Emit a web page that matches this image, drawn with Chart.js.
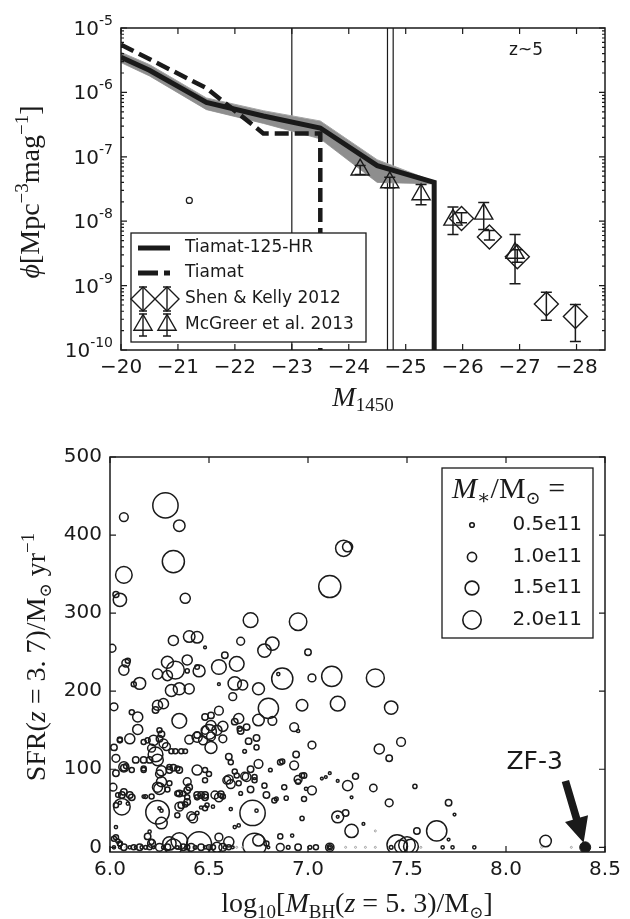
<!DOCTYPE html>
<html lang="en">
<head>
<meta charset="UTF-8">
<title>Quasar LF at z~5 and host SFR</title>
<script src="https://cdn.jsdelivr.net/npm/chart.js@4.4.1/dist/chart.umd.min.js"></script>
<style>
  body { margin: 0; background: #fff; }
  .panel { position: absolute; left: 0; }
  #lfPanel { top: 0; }
  #sfrPanel { top: 415px; }
</style>
</head>
<body>
<div class="panel" id="lfPanel"><canvas id="lfChart" width="630" height="415"></canvas></div>
<div class="panel" id="sfrPanel"><canvas id="sfrChart" width="630" height="504"></canvas></div>
<script>
// ---- top panel: z~5 luminosity function ----
const hrMag = [-20, -20.5, -21.5, -22.5, -23.5, -24.5, -25.5, -25.5];
const hrPhi = [3.5e-6, 2.2e-6, 7.0e-7, 4.3e-7, 2.8e-7, 7.3e-8, 4.0e-8, 1e-12];
const hrBandMag = [-20, -20.5, -21.5, -22.5, -23.5, -24.5, -25.45];
const hrBandHi = [4.2e-6, 2.7e-6, 8.2e-7, 5.2e-7, 3.6e-7, 9.0e-8, 4.3e-8];
const hrBandLo = [2.9e-6, 1.8e-6, 5.4e-7, 3.3e-7, 1.9e-7, 4.0e-8, 3.8e-8];
const tiMag = [-20, -21.5, -22.5, -23.5, -23.5];
const tiPhi = [5.5e-6, 1.17e-6, 2.3e-7, 2.3e-7, 1e-12];
const skMag = [-25.98, -26.47, -26.96, -27.47, -27.98];
const skPhi = [1.1e-8, 5.7e-9, 2.8e-9, 5.2e-10, 3.3e-10];
const skHi = [1.35e-8, 7.2e-9, 3.6e-9, 7.9e-10, 5.1e-10];
const skLo = [9.5e-9, 5.1e-9, 2.3e-9, 2.9e-10, 1.35e-10];
const mgMag = [-24.2, -24.72, -25.27, -25.83, -26.37, -26.92];
const mgPhi = [6.3e-8, 4.0e-8, 2.6e-8, 1.05e-8, 1.3e-8, 3.2e-9];
const mgHi = [7.3e-8, 4.8e-8, 3.7e-8, 1.66e-8, 1.95e-8, 6.2e-9];
const mgLo = [5.3e-8, 3.3e-8, 1.8e-8, 6.2e-9, 7.4e-9, 1.07e-9];
const strayMag = [-21.2];
const strayPhi = [2.1e-8];
const limitMag = [-23, -24.68, -24.78];
const magTicks = [-20, -21, -22, -23, -24, -25, -26, -27, -28];
const phiExp = [-10, -9, -8, -7, -6, -5];

// ---- bottom panel: SFR(z=3.7) vs BH mass(z=5.3), marker size = stellar mass ----
const logMbh = [
  6.28, 6.07, 6.35, 6.32, 6.07, 6.03, 6.05, 6.38, 6.71, 6.95,
  6.32, 6.40, 6.44, 6.48, 6.01, 6.66, 6.78, 6.82, 7.00, 6.58,
  6.29, 6.33, 6.39, 6.39, 6.45, 6.55, 6.64, 6.07, 6.08, 6.09,
  6.24, 6.29, 6.15, 6.12, 6.87, 7.02, 6.85, 6.63, 6.67, 6.75,
  7.18, 7.20, 7.11, 7.12, 7.34, 6.55, 6.44, 7.15, 7.42, 7.02,
  7.36, 7.47, 7.41, 6.98, 7.07, 7.09, 7.11, 7.15, 7.20, 7.24,
  7.02, 6.99, 7.33, 7.54, 7.22, 7.41, 7.71, 7.74, 7.15, 7.15,
  7.19, 7.22, 7.28, 7.34, 7.55, 7.65, 7.71, 8.20, 7.45, 7.50,
  7.52, 7.47, 7.04, 7.11, 7.11, 7.11, 7.19, 7.24, 7.29, 7.34,
  7.42, 7.57, 7.68, 7.73, 7.84, 8.18, 8.33, 6.31, 6.35, 6.40,
  6.62, 6.02, 6.14, 6.11, 6.24, 6.27, 6.23, 6.35, 6.55, 6.51,
  6.48, 6.65, 6.75, 6.80, 6.82, 6.97, 6.57, 6.69, 6.93, 6.95,
  6.14, 6.10, 6.05, 6.02, 6.22, 6.27, 6.26, 6.25, 6.31, 6.33,
  6.36, 6.38, 6.40, 6.44, 6.47, 6.51, 6.51, 6.50, 6.60, 6.61,
  6.70, 6.74, 6.74, 6.68, 6.87, 6.93, 6.13, 6.17, 6.20, 6.24,
  6.23, 6.03, 6.07, 6.08, 6.17, 6.26, 6.30, 6.32, 6.35, 6.44,
  6.48, 6.50, 6.60, 6.61, 6.64, 6.69, 6.73, 6.73, 6.81, 6.97,
  6.95, 6.78, 6.88, 6.84, 6.89, 6.71, 6.66, 6.55, 6.56, 6.46,
  6.48, 6.44, 6.39, 6.35, 6.39, 6.29, 6.25, 6.21, 6.18, 6.07,
  6.04, 6.11, 6.06, 6.05, 6.09, 6.24, 6.25, 6.26, 6.26, 6.35,
  6.38, 6.41, 6.42, 6.44, 6.46, 6.49, 6.52, 6.61, 6.72, 6.74,
  6.65, 6.63, 6.97, 6.92, 6.86, 6.75, 6.79, 6.73, 6.03, 6.03,
  6.04, 6.05, 6.19, 6.20, 6.21, 6.30, 6.32, 6.45, 6.55, 6.54,
  6.50, 6.52, 6.41, 6.37, 6.25, 6.86, 6.95, 6.90, 7.01, 6.66,
  6.94, 6.75, 6.86, 6.71, 6.68, 6.95, 6.79, 6.83, 6.98, 6.02,
  6.05, 6.08, 6.10, 6.13, 6.16, 6.18, 6.22, 6.27, 6.34, 6.43,
  6.48, 6.58, 6.62, 6.64, 6.67, 6.80,
  6.05, 6.17, 6.19, 6.21, 6.25, 6.285, 6.44, 6.48, 6.51, 6.54,
  6.57, 6.63, 6.655, 6.03, 6.07, 6.11, 6.17, 6.25, 6.26, 6.30,
  6.30, 6.34, 6.48, 6.59, 6.63, 6.015, 6.06, 6.10, 6.17, 6.24,
  6.34, 6.37, 6.39, 6.40, 6.44, 6.48, 6.53, 6.57, 6.65, 6.03,
  6.36, 6.39, 6.34, 6.48, 6.02, 6.05, 6.21, 6.35, 6.60, 6.07,
  6.12, 6.15, 6.20, 6.29, 6.39, 6.46, 6.57, 6.60
];
const sfr = [
  438, 423, 412, 366, 349, 324, 317, 319, 291, 289,
  265, 270, 269, 256, 255, 264, 252, 261, 250, 246,
  237, 227, 240, 226, 226, 231, 235, 227, 236, 239,
  222, 220, 210, 209, 216, 217, 222, 210, 208, 203,
  383, 385, 334, 219, 217, 209, 231, 184, 179, 131,
  126, 135, 114, 92, 88, 90, 95, 85, 79, 91,
  73, 75, 76, 78, 64, 57, 57, 42, 39, 39,
  44, 21, 30, 21, 21, 21, 10, 8, 3, 3,
  1, 1, 0, 0, 0, 0, 0, 0, 0, 0,
  0, 0, 0, 0, 0, 0, 0, 201, 203, 203,
  193, 180, 167, 173, 182, 184, 176, 162, 175, 169,
  167, 165, 163, 178, 162, 182, 155, 154, 154, 149,
  151, 139, 138, 128, 137, 133, 145, 150, 123, 123,
  123, 123, 138, 144, 137, 142, 128, 148, 116, 109,
  136, 140, 128, 123, 110, 105, 112, 112, 112, 112,
  119, 95, 102, 104, 99, 98, 99, 102, 99, 99,
  99, 94, 87, 81, 92, 90, 90, 86, 99, 92,
  84, 79, 77, 62, 63, 74, 69, 64, 68, 67,
  64, 64, 64, 69, 73, 74, 75, 65, 65, 71,
  67, 64, 52, 57, 56, 45, 50, 47, 31, 52,
  55, 40, 37, 44, 51, 54, 52, 49, 44, 47,
  28, 26, 37, 15, 14, 9, 5, 3, 26, 13,
  8, 4, 14, 20, 7, 5, 0, 4, 13, 0,
  0, 0, 0, 0, 0, 0, 0, 0, 0, 149,
  119, 107, 109, 100, 91, 87, 67, 60, 62, 0,
  0, 0, 0, 0, 0, 0, 0, 0, 0, 0,
  0, 0, 0, 0, 0, 0,
  137, 135, 137, 127, 139, 129, 141, 150, 156, 150,
  139, 161, 152, 114, 103, 99, 101, 94, 84, 82,
  103, 101, 86, 86, 97, 77, 67, 67, 65, 77,
  69, 69, 84, 77, 67, 67, 67, 65, 82, 54,
  54, 58, 41, 50, 11, 5, 5, 8, 7, 0,
  0, 0, 0, 0, 0, 0, 0, 0
];
const mStar = [
  2.75, 0.95, 1.25, 2.4, 1.8, 0.65, 1.45, 1.1, 1.6, 1.9,
  1.1, 1.25, 1.25, 0.3, 0.85, 0.85, 1.45, 1.45, 0.7, 0.7,
  1.3, 1.95, 1.1, 0.45, 1.3, 1.6, 1.6, 1.1, 0.85, 0.55,
  1.1, 1.1, 1.3, 0.55, 2.3, 0.85, 0.35, 1.45, 1.1, 1.3,
  1.75, 1.1, 2.4, 2.2, 1.95, 0.3, 0.5, 1.6, 1.45, 0.85,
  1.1, 0.95, 0.7, 0.6, 0.3, 0.3, 0.3, 0.3, 1.1, 0.65,
  0.95, 0.35, 0.8, 0.45, 0.3, 0.85, 0.7, 0.3, 1.3, 0.3,
  0.7, 1.45, 0.3, 0.2, 0.7, 2.2, 0.3, 1.25, 2.2, 1.8,
  1.6, 1.4, 0.55, 0.9, 0.55, 0.3, 0.15, 0.15, 0.15, 0.2,
  0.4, 0.2, 0.35, 0.35, 0.35, 0.15, 0.15, 1.3, 1.3, 1.1,
  0.85, 0.85, 1.1, 0.55, 1.1, 1.1, 0.7, 1.6, 0.95, 0.7,
  0.7, 1.1, 1.25, 2.2, 0.95, 1.25, 1.1, 0.7, 0.95, 0.35,
  1.1, 1.1, 0.55, 0.7, 1.1, 0.95, 0.7, 0.55, 0.55, 0.55,
  0.55, 0.5, 0.95, 0.7, 0.95, 0.95, 1.3, 1.6, 0.7, 0.55,
  0.7, 0.7, 0.55, 0.4, 0.55, 0.95, 0.7, 0.7, 0.7, 1.25,
  1.6, 0.7, 0.7, 0.5, 0.55, 1.1, 0.7, 0.7, 0.7, 1.1,
  0.55, 0.55, 0.95, 0.95, 0.55, 0.95, 0.55, 0.55, 0.4, 0.55,
  0.55, 0.55, 0.55, 0.4, 0.45, 0.7, 0.4, 0.95, 0.7, 0.7,
  0.7, 0.55, 0.55, 0.7, 0.7, 0.55, 1.25, 0.55, 0.4, 0.7,
  0.5, 0.7, 1.8, 0.35, 0.35, 2.55, 0.35, 0.35, 1.25, 0.95,
  0.55, 0.95, 0.95, 0.4, 0.35, 0.45, 0.35, 0.35, 2.75, 0.35,
  0.35, 0.35, 0.45, 0.35, 0.55, 1.25, 0.55, 2.55, 0.35, 0.55,
  0.45, 0.45, 0.7, 0.35, 0.55, 1.45, 1.8, 2.7, 0.85, 1.1,
  0.55, 0.55, 0.85, 0.7, 0.85, 0.85, 0.7, 0.4, 0.4, 0.7,
  0.7, 0.95, 0.6, 0.7, 0.85, 0.85, 0.7, 0.55, 0.55, 0.35,
  0.3, 0.15, 0.35, 0.3, 0.35, 0.4, 0.3, 0.4, 0.35, 0.4,
  0.35, 0.35, 0.3, 0.15, 0.15, 0.3,
  0.55, 0.55, 0.55, 0.85, 0.7, 0.85, 1.1, 0.85, 1.1, 1.1,
  0.85, 0.7, 0.55, 0.85, 1.1, 0.55, 0.55, 0.85, 1.1, 0.55,
  0.55, 0.55, 0.55, 0.85, 0.55, 0.85, 0.7, 0.7, 0.35, 1.1,
  0.55, 0.55, 0.85, 0.7, 0.7, 0.7, 0.85, 0.55, 0.55, 0.55,
  0.7, 0.7, 0.55, 0.55, 0.55, 0.55, 0.85, 1.8, 1.1, 0.7,
  0.55, 0.7, 0.55, 0.7, 0.55, 0.7, 0.85, 0.55
];
const legendMass = [0.5, 1.0, 1.5, 2.0];
const zf3Mbh = [8.4];
const zf3Sfr = [0];
const bhTicks = [6.0, 6.5, 7.0, 7.5, 8.0, 8.5];
const sfrTicks = [0, 100, 200, 300, 400, 500];

const INK = '#1a1a1a';
const SANS = "'DejaVu Sans', sans-serif";
const SERIF = "'Liberation Serif', 'DejaVu Serif', serif";
const PX_PER_MASS = 4.6; // marker radius in px per 1e11 Msun

Chart.defaults.font.family = SANS;
Chart.defaults.color = INK;

const toXY = (xs, ys) => xs.map((v, i) => ({ x: v, y: ys[i] }));

function fontOf(p) {
    return (p.it ? 'italic ' : '') + p.s + 'px ' + (p.f || SERIF);
}

// draw a run of text pieces (sub/superscripts via dy), baseline at (x, y)
function drawRich(ctx, parts, x, y, align, angle) {
    ctx.save();
    ctx.translate(x, y);
    if (angle) ctx.rotate(angle);
    ctx.textAlign = 'left';
    ctx.textBaseline = 'alphabetic';
    let w = 0;
    parts.forEach(p => { ctx.font = fontOf(p); w += ctx.measureText(p.t).width; });
    let cx = align === 'center' ? -w / 2 : (align === 'right' ? -w : 0);
    parts.forEach(p => {
        ctx.font = fontOf(p);
        ctx.fillText(p.t, cx, p.dy || 0);
        cx += ctx.measureText(p.t).width;
    });
    ctx.restore();
}

function seg(ctx, x1, y1, x2, y2) {
    ctx.moveTo(x1, y1);
    ctx.lineTo(x2, y2);
}

// box + inward ticks on all four sides
function drawFrame(ctx, a, x, y, minorY) {
    ctx.save();
    ctx.strokeStyle = INK;
    ctx.lineWidth = 1.5;
    ctx.strokeRect(a.left, a.top, a.right - a.left, a.bottom - a.top);
    ctx.lineWidth = 1.2;
    ctx.beginPath();
    x.ticks.forEach(t => {
        const px = x.getPixelForValue(t.value);
        seg(ctx, px, a.top, px, a.top + 6);
        seg(ctx, px, a.bottom, px, a.bottom - 6);
    });
    y.ticks.forEach(t => {
        const py = y.getPixelForValue(t.value);
        seg(ctx, a.left, py, a.left + 6, py);
        seg(ctx, a.right, py, a.right - 6, py);
    });
    (minorY || []).forEach(v => {
        const py = y.getPixelForValue(v);
        seg(ctx, a.left, py, a.left + 3, py);
        seg(ctx, a.right, py, a.right - 3, py);
    });
    ctx.stroke();
    ctx.restore();
}

function errBar(ctx, px, p1, p2, cap) {
    seg(ctx, px, p1, px, p2);
    seg(ctx, px - cap, p1, px + cap, p1);
    seg(ctx, px - cap, p2, px + cap, p2);
}

function triangle(ctx, x, y, r) {
    ctx.beginPath();
    ctx.moveTo(x, y - r);
    ctx.lineTo(x - r * 0.866, y + r / 2);
    ctx.lineTo(x + r * 0.866, y + r / 2);
    ctx.closePath();
    ctx.stroke();
}

function diamond(ctx, x, y, r) {
    ctx.beginPath();
    ctx.moveTo(x - r, y);
    ctx.lineTo(x, y - r);
    ctx.lineTo(x + r, y);
    ctx.lineTo(x, y + r);
    ctx.closePath();
    ctx.stroke();
}

const lfDecor = {
    id: 'lfDecor',
    beforeDatasetsDraw(chart) {
        const { ctx, chartArea: a, scales: { x } } = chart;
        ctx.save();
        ctx.strokeStyle = INK;
        ctx.lineWidth = 1.2;
        ctx.beginPath();
        limitMag.forEach(m => {
            const px = x.getPixelForValue(m);
            seg(ctx, px, a.top, px, a.bottom);
        });
        ctx.stroke();
        ctx.restore();
    },
    afterDatasetsDraw(chart) {
        const { ctx, scales: { x, y } } = chart;
        ctx.save();
        ctx.strokeStyle = INK;
        ctx.lineWidth = 1.5;
        ctx.beginPath();
        skMag.forEach((m, i) => errBar(ctx, x.getPixelForValue(m), y.getPixelForValue(skLo[i]), y.getPixelForValue(skHi[i]), 5.5));
        mgMag.forEach((m, i) => errBar(ctx, x.getPixelForValue(m), y.getPixelForValue(mgLo[i]), y.getPixelForValue(mgHi[i]), 5.5));
        ctx.stroke();
        ctx.restore();
    },
    afterDraw(chart) {
        const { ctx, chartArea: a, scales: { x, y } } = chart;
        const minor = [];
        for (let e = -10; e < -5; e++) {
            for (let k = 2; k <= 9; k++) minor.push(k * Math.pow(10, e));
        }
        drawFrame(ctx, a, x, y, minor);

        // y tick labels 10^n
        ctx.fillStyle = INK;
        phiExp.forEach(e => {
            const py = y.getPixelForValue(Math.pow(10, e));
            drawRich(ctx, [
                { t: '10', s: 20, f: SANS },
                { t: '-' + Math.abs(e), s: 14, f: SANS, dy: -10 }
            ], a.left - 8, py + 7, 'right');
        });

        // axis titles
        drawRich(ctx, [
            { t: 'M', s: 28, it: true },
            { t: '1450', s: 19, dy: 5 }
        ], (a.left + a.right) / 2, 406, 'center');
        drawRich(ctx, [
            { t: '\u03d5', s: 28, it: true },
            { t: '[Mpc', s: 28 },
            { t: '\u22123', s: 19, dy: -11 },
            { t: 'mag', s: 28 },
            { t: '\u22121', s: 19, dy: -11 },
            { t: ']', s: 28 }
        ], 39, 192, 'center', -Math.PI / 2);

        ctx.save();
        ctx.font = '17px ' + SANS;
        ctx.textAlign = 'center';
        ctx.textBaseline = 'middle';
        ctx.fillText('z~5', 526, 51);
        ctx.restore();

        // legend
        const box = { l: 131, t: 233, r: 366, b: 342 };
        const rows = [248, 273, 299, 325];
        ctx.save();
        ctx.fillStyle = '#fff';
        ctx.fillRect(box.l, box.t, box.r - box.l, box.b - box.t);
        ctx.strokeStyle = INK;
        ctx.lineWidth = 1.3;
        ctx.strokeRect(box.l, box.t, box.r - box.l, box.b - box.t);
        ctx.lineWidth = 5;
        ctx.beginPath();
        seg(ctx, 138, rows[0], 170, rows[0]);
        seg(ctx, 138, rows[1], 158, rows[1]);
        seg(ctx, 164, rows[1], 170, rows[1]);
        ctx.stroke();
        ctx.lineWidth = 1.4;
        [143, 167].forEach(mx => {
            diamond(ctx, mx, rows[2], 12);
            triangle(ctx, mx, rows[3], 10.5);
            ctx.beginPath();
            errBar(ctx, mx, rows[2] - 12, rows[2] + 12, 4);
            errBar(ctx, mx, rows[3] - 11, rows[3] + 11, 4);
            ctx.stroke();
        });
        ctx.fillStyle = INK;
        ctx.font = '17px ' + SANS;
        ctx.textAlign = 'left';
        ctx.textBaseline = 'middle';
        ['Tiamat-125-HR', 'Tiamat', 'Shen & Kelly 2012', 'McGreer et al. 2013'].forEach((t, i) => {
            ctx.fillText(t, 185, rows[i]);
        });
        ctx.restore();
    }
};

new Chart(document.getElementById('lfChart'), {
    type: 'line',
    data: {
        datasets: [
            {
                label: 'McGreer et al. 2013', data: toXY(mgMag, mgPhi), showLine: false,
                pointStyle: 'triangle', pointRadius: 10.5, pointBorderWidth: 1.4,
                pointBorderColor: INK, pointBackgroundColor: 'rgba(0,0,0,0)', order: 0
            },
            {
                label: 'Shen & Kelly 2012', data: toXY(skMag, skPhi), showLine: false,
                pointStyle: 'rectRot', pointRadius: 12, pointBorderWidth: 1.4,
                pointBorderColor: INK, pointBackgroundColor: 'rgba(0,0,0,0)', order: 0
            },
            {
                label: 'single', data: toXY(strayMag, strayPhi), showLine: false,
                pointStyle: 'circle', pointRadius: 3, pointBorderWidth: 1.2,
                pointBorderColor: INK, pointBackgroundColor: 'rgba(0,0,0,0)', order: 0
            },
            {
                label: 'Tiamat', data: toXY(tiMag, tiPhi), borderColor: INK, borderWidth: 4.5,
                borderDash: [14, 6], pointRadius: 0, clip: 0, order: 1
            },
            {
                label: 'Tiamat-125-HR', data: toXY(hrMag, hrPhi), borderColor: INK, borderWidth: 5,
                pointRadius: 0, clip: 0, order: 2
            },
            {
                label: 'band hi', data: toXY(hrBandMag, hrBandHi), borderColor: '#a6a6a6', borderWidth: 1,
                backgroundColor: '#8e8e8e', fill: '+1', pointRadius: 0, clip: 0, order: 3
            },
            {
                label: 'band lo', data: toXY(hrBandMag, hrBandLo), borderColor: '#a6a6a6', borderWidth: 1,
                pointRadius: 0, clip: 0, order: 3
            }
        ]
    },
    options: {
        responsive: false,
        animation: false,
        devicePixelRatio: 1,
        events: [],
        layout: { padding: { top: 28, right: 25, left: 0, bottom: 0 } },
        plugins: { legend: { display: false }, tooltip: { enabled: false } },
        scales: {
            x: {
                type: 'linear', reverse: true, min: -28.5, max: -20,
                afterBuildTicks: s => { s.ticks = magTicks.map(v => ({ value: v })); },
                afterFit: s => { s.height = 65; },
                grid: { display: false, drawTicks: false },
                border: { display: false },
                ticks: {
                    color: INK, font: { family: SANS, size: 20 }, padding: 6,
                    maxRotation: 0, autoSkip: false,
                    callback: v => '\u2212' + Math.abs(v)
                }
            },
            y: {
                type: 'logarithmic', min: 1e-10, max: 1e-5,
                afterBuildTicks: s => { s.ticks = phiExp.map(e => ({ value: Math.pow(10, e) })); },
                afterFit: s => { s.width = 121; },
                grid: { display: false, drawTicks: false },
                border: { display: false },
                ticks: { display: false }
            }
        }
    },
    plugins: [lfDecor]
});

const sfrDecor = {
    id: 'sfrDecor',
    afterDraw(chart) {
        const { ctx, chartArea: a, scales: { x, y } } = chart;
        drawFrame(ctx, a, x, y);
        ctx.fillStyle = INK;

        drawRich(ctx, [
            { t: 'log', s: 28 },
            { t: '10', s: 19, dy: 6 },
            { t: '[', s: 28 },
            { t: 'M', s: 28, it: true },
            { t: 'BH', s: 19, dy: 6 },
            { t: '(', s: 28 },
            { t: 'z', s: 28, it: true },
            { t: ' = 5. 3)/M', s: 28 },
            { t: '\u2299', s: 17, dy: 6 },
            { t: ']', s: 28 }
        ], 357, 497, 'center');
        drawRich(ctx, [
            { t: 'SFR(', s: 28 },
            { t: 'z', s: 28, it: true },
            { t: ' = 3. 7)/M', s: 28 },
            { t: '\u2299', s: 17, dy: 6 },
            { t: ' yr', s: 28 },
            { t: '\u22121', s: 19, dy: -11 }
        ], 45, 242, 'center', -Math.PI / 2);

        // ZF-3 arrow and label
        const tip = [x.getPixelForValue(8.392), y.getPixelForValue(6)];
        const tail = [x.getPixelForValue(8.3), y.getPixelForValue(85)];
        const dx = tip[0] - tail[0], dy = tip[1] - tail[1];
        const len = Math.hypot(dx, dy);
        const ux = dx / len, uy = dy / len, nx = -uy, ny = ux;
        const hl = 25, hw = 12, sw = 3.8;
        const bx = tip[0] - ux * hl, by = tip[1] - uy * hl;
        ctx.save();
        ctx.fillStyle = INK;
        ctx.beginPath();
        ctx.moveTo(tail[0] + nx * sw, tail[1] + ny * sw);
        ctx.lineTo(bx + nx * sw, by + ny * sw);
        ctx.lineTo(bx + nx * hw, by + ny * hw);
        ctx.lineTo(tip[0], tip[1]);
        ctx.lineTo(bx - nx * hw, by - ny * hw);
        ctx.lineTo(bx - nx * sw, by - ny * sw);
        ctx.lineTo(tail[0] - nx * sw, tail[1] - ny * sw);
        ctx.closePath();
        ctx.fill();
        ctx.font = '25px ' + SANS;
        ctx.textAlign = 'center';
        ctx.textBaseline = 'middle';
        ctx.fillText('ZF-3', x.getPixelForValue(8.145), y.getPixelForValue(109));
        ctx.restore();

        // legend
        const box = { l: 442, t: 53, r: 593, b: 223 };
        const rows = [110, 142, 173, 205];
        ctx.save();
        ctx.fillStyle = '#fff';
        ctx.fillRect(box.l, box.t, box.r - box.l, box.b - box.t);
        ctx.strokeStyle = INK;
        ctx.lineWidth = 1.3;
        ctx.strokeRect(box.l, box.t, box.r - box.l, box.b - box.t);
        ctx.fillStyle = INK;
        drawRich(ctx, [
            { t: 'M', s: 30, it: true },
            { t: '\u2217', s: 20, dy: 6 },
            { t: '/M', s: 30 },
            { t: '\u2299', s: 18, dy: 6 },
            { t: ' =', s: 30 }
        ], 452, 83, 'left');
        ctx.lineWidth = 1.6;
        ctx.font = '20px ' + SANS;
        ctx.textAlign = 'right';
        ctx.textBaseline = 'middle';
        legendMass.forEach((m, i) => {
            ctx.beginPath();
            ctx.arc(472, rows[i], m * PX_PER_MASS, 0, Math.PI * 2);
            ctx.stroke();
            ctx.fillText(m.toFixed(1) + 'e11', 582, rows[i]);
        });
        ctx.restore();
    }
};

new Chart(document.getElementById('sfrChart'), {
    type: 'scatter',
    data: {
        datasets: [
            {
                label: 'ZF-3', data: toXY(zf3Mbh, zf3Sfr), pointRadius: 5.5,
                backgroundColor: INK, borderColor: INK, borderWidth: 1
            },
            {
                label: 'galaxies', data: toXY(logMbh, sfr), clip: 0,
                pointRadius: c => Math.max(1, mStar[c.dataIndex] * PX_PER_MASS),
                borderColor: c => (mStar[c.dataIndex] < 0.25 ? '#a0a0a0' : INK),
                borderWidth: c => (mStar[c.dataIndex] < 0.25 ? 1 : 1.5),
                backgroundColor: 'rgba(0,0,0,0)'
            }
        ]
    },
    options: {
        responsive: false,
        animation: false,
        devicePixelRatio: 1,
        events: [],
        layout: { padding: { top: 42, right: 25, left: 0, bottom: 0 } },
        plugins: { legend: { display: false }, tooltip: { enabled: false } },
        scales: {
            x: {
                type: 'linear', min: 6, max: 8.5,
                afterBuildTicks: s => { s.ticks = bhTicks.map(v => ({ value: v })); },
                afterFit: s => { s.height = 67; },
                grid: { display: false, drawTicks: false },
                border: { display: false },
                ticks: {
                    color: INK, font: { family: SANS, size: 20 }, padding: 6,
                    maxRotation: 0, autoSkip: false,
                    callback: v => Number(v).toFixed(1)
                }
            },
            y: {
                type: 'linear', min: -6, max: 500,
                afterBuildTicks: s => { s.ticks = sfrTicks.map(v => ({ value: v })); },
                afterFit: s => { s.width = 110; },
                grid: { display: false, drawTicks: false },
                border: { display: false },
                ticks: { color: INK, font: { family: SANS, size: 20 }, padding: 8 }
            }
        }
    },
    plugins: [sfrDecor]
});
</script>
</body>
</html>
